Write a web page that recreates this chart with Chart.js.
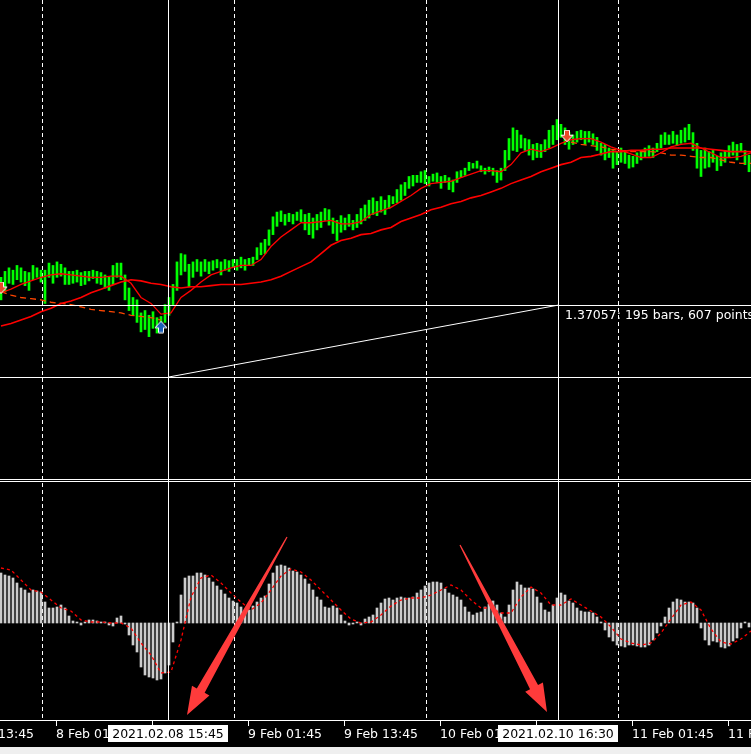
<!DOCTYPE html>
<html>
<head>
<meta charset="utf-8">
<title>GBPUSD M15</title>
<script src="https://cdn.jsdelivr.net/npm/chart.js@4.4.1/dist/chart.umd.min.js"></script>
<style>
  html, body { margin: 0; padding: 0; background: #000; }
  #wrap { width: 751px; height: 754px; }
</style>
</head>
<body>
<div id="wrap"><canvas id="chartA" width="751" height="754"></canvas></div>
<script>
// M15 bars, x = bar index (bar 0 = first visible bar, 2 px per bar)
const tickIdx = [-20, 28, 76, 124, 172, 220, 268, 316, 364];
const tickLabels = ['5 Feb 13:45', '8 Feb 01:45', '8 Feb 13:45', '9 Feb 01:45', '9 Feb 13:45',
    '10 Feb 01:45', '10 Feb 13:45', '11 Feb 01:45', '11 Feb 13:45'];
const gridIdx = [21, 117, 213, 309];

// price bars (every second bar), high / low
const barHigh = [
    1.3729, 1.3734, 1.3737, 1.3735, 1.3739, 1.3737, 1.3734, 1.3733, 1.3739, 1.3737,
    1.3735, 1.3735, 1.3741, 1.3739, 1.3742, 1.3740, 1.3737, 1.3734, 1.3734, 1.3735,
    1.3733, 1.3734, 1.3734, 1.3735, 1.3734, 1.3733, 1.3731, 1.3729, 1.3739, 1.3741,
    1.3741, 1.3731, 1.3720, 1.3712, 1.3710, 1.3699, 1.3701, 1.3697, 1.3700, 1.3695,
    1.3696, 1.3706, 1.3712, 1.3723, 1.3742, 1.3749, 1.3748, 1.3740, 1.3742, 1.3744,
    1.3742, 1.3744, 1.3742, 1.3743, 1.3744, 1.3742, 1.3744, 1.3743, 1.3744, 1.3744,
    1.3746, 1.3744, 1.3745, 1.3746, 1.3754, 1.3758, 1.3761, 1.3769, 1.3780, 1.3784,
    1.3785, 1.3782, 1.3783, 1.3782, 1.3784, 1.3786, 1.3782, 1.3783, 1.3779, 1.3782,
    1.3784, 1.3787, 1.3786, 1.3779, 1.3777, 1.3781, 1.3779, 1.3782, 1.3777, 1.3782,
    1.3787, 1.3790, 1.3794, 1.3796, 1.3793, 1.3797, 1.3794, 1.3798, 1.3797, 1.3803,
    1.3807, 1.3809, 1.3814, 1.3815, 1.3815, 1.3818, 1.3819, 1.3814, 1.3816, 1.3817,
    1.3814, 1.3815, 1.3813, 1.3811, 1.3818, 1.3819, 1.3821, 1.3826, 1.3825, 1.3827,
    1.3823, 1.3821, 1.3822, 1.3821, 1.3819, 1.3821, 1.3836, 1.3846, 1.3855, 1.3853,
    1.3849, 1.3846, 1.3845, 1.3841, 1.3842, 1.3841, 1.3845, 1.3853, 1.3857, 1.3862,
    1.3858, 1.3855, 1.3851, 1.3849, 1.3852, 1.3853, 1.3852, 1.3852, 1.3850, 1.3847,
    1.3842, 1.3841, 1.3838, 1.3836, 1.3835, 1.3838, 1.3836, 1.3832, 1.3831, 1.3834,
    1.3836, 1.3838, 1.3840, 1.3838, 1.3842, 1.3849, 1.3851, 1.3849, 1.3852, 1.3849,
    1.3853, 1.3855, 1.3858, 1.3851, 1.3842, 1.3836, 1.3838, 1.3835, 1.3836, 1.3831,
    1.3834, 1.3836, 1.3840, 1.3843, 1.3841, 1.3842, 1.3836, 1.3832
];
const barLow = [
    1.3710, 1.3717, 1.3724, 1.3723, 1.3727, 1.3725, 1.3722, 1.3718, 1.3727, 1.3729,
    1.3725, 1.3707, 1.3729, 1.3724, 1.3729, 1.3730, 1.3723, 1.3723, 1.3724, 1.3725,
    1.3722, 1.3723, 1.3726, 1.3728, 1.3724, 1.3723, 1.3720, 1.3718, 1.3723, 1.3729,
    1.3727, 1.3710, 1.3701, 1.3697, 1.3691, 1.3683, 1.3685, 1.3679, 1.3686, 1.3682,
    1.3685, 1.3691, 1.3697, 1.3706, 1.3718, 1.3731, 1.3734, 1.3721, 1.3729, 1.3734,
    1.3730, 1.3734, 1.3732, 1.3735, 1.3737, 1.3731, 1.3735, 1.3734, 1.3738, 1.3735,
    1.3737, 1.3735, 1.3739, 1.3739, 1.3744, 1.3748, 1.3749, 1.3756, 1.3765, 1.3772,
    1.3776, 1.3773, 1.3776, 1.3774, 1.3777, 1.3776, 1.3769, 1.3765, 1.3762, 1.3769,
    1.3771, 1.3777, 1.3773, 1.3766, 1.3760, 1.3767, 1.3769, 1.3772, 1.3769, 1.3771,
    1.3774, 1.3777, 1.3779, 1.3782, 1.3781, 1.3784, 1.3782, 1.3787, 1.3791, 1.3792,
    1.3794, 1.3798, 1.3804, 1.3806, 1.3809, 1.3809, 1.3808, 1.3806, 1.3810, 1.3809,
    1.3804, 1.3809, 1.3803, 1.3801, 1.3809, 1.3813, 1.3815, 1.3819, 1.3821, 1.3821,
    1.3818, 1.3816, 1.3818, 1.3815, 1.3809, 1.3811, 1.3819, 1.3828, 1.3836, 1.3835,
    1.3838, 1.3836, 1.3832, 1.3828, 1.3830, 1.3830, 1.3835, 1.3838, 1.3841, 1.3845,
    1.3847, 1.3841, 1.3837, 1.3841, 1.3843, 1.3845, 1.3841, 1.3843, 1.3841, 1.3836,
    1.3832, 1.3828, 1.3830, 1.3821, 1.3824, 1.3826, 1.3825, 1.3821, 1.3822, 1.3825,
    1.3828, 1.3830, 1.3831, 1.3830, 1.3835, 1.3838, 1.3841, 1.3841, 1.3842, 1.3840,
    1.3842, 1.3843, 1.3845, 1.3836, 1.3821, 1.3814, 1.3821, 1.3822, 1.3826, 1.3819,
    1.3823, 1.3826, 1.3830, 1.3832, 1.3828, 1.3835, 1.3824, 1.3818
];

// moving averages and stop line, one value every 5 bars
const maFast = [
    1.3716, 1.3719, 1.3723, 1.3726, 1.3729, 1.3731, 1.3732, 1.3731, 1.3730, 1.3729,
    1.3729, 1.3730, 1.3730, 1.3724, 1.3712, 1.3707, 1.3698, 1.3699, 1.3712, 1.3718,
    1.3725, 1.3731, 1.3734, 1.3737, 1.3739, 1.3739, 1.3744, 1.3755, 1.3763, 1.3769,
    1.3775, 1.3775, 1.3776, 1.3777, 1.3774, 1.3774, 1.3776, 1.3782, 1.3785, 1.3788,
    1.3793, 1.3798, 1.3804, 1.3808, 1.3809, 1.3810, 1.3813, 1.3816, 1.3819, 1.3819,
    1.3818, 1.3824, 1.3834, 1.3837, 1.3835, 1.3838, 1.3842, 1.3845, 1.3846, 1.3846,
    1.3843, 1.3839, 1.3836, 1.3833, 1.3830, 1.3830, 1.3834, 1.3839, 1.3841, 1.3842,
    1.3838, 1.3834, 1.3830, 1.3830, 1.3831, 1.3834
];
const maSlow = [
    1.3688, 1.3690, 1.3693, 1.3696, 1.3700, 1.3703, 1.3707, 1.3709, 1.3712, 1.3716,
    1.3719, 1.3722, 1.3725, 1.3727, 1.3726, 1.3724, 1.3723, 1.3721, 1.3720, 1.3721,
    1.3721, 1.3722, 1.3723, 1.3723, 1.3723, 1.3724, 1.3725, 1.3727, 1.3730, 1.3734,
    1.3738, 1.3742, 1.3749, 1.3756, 1.3760, 1.3762, 1.3765, 1.3766, 1.3769, 1.3771,
    1.3776, 1.3779, 1.3782, 1.3786, 1.3788, 1.3791, 1.3793, 1.3796, 1.3798, 1.3801,
    1.3804, 1.3808, 1.3811, 1.3814, 1.3818, 1.3821, 1.3824, 1.3826, 1.3830, 1.3831,
    1.3833, 1.3835, 1.3835, 1.3836, 1.3836, 1.3837, 1.3837, 1.3838, 1.3838, 1.3838,
    1.3838, 1.3837, 1.3836, 1.3835, 1.3835, 1.3835
];
const trailStop = [
    1.3717, 1.3714, 1.3712, 1.3711, 1.3710, 1.3708, 1.3707, 1.3706, 1.3704, 1.3702,
    1.3701, 1.3700, 1.3699, 1.3697, 1.3696, 1.3695, 1.3693,
    null, null, null, null, null, null, null, null, null, null,
    null, null, null, null, null, null, null, null, null, null,
    null, null, null, null, null, null, null, null, null, null,
    null, null, null, null, null, null, null, null, null, null,
    1.3843, 1.3841, 1.3840, 1.3839, 1.3837, 1.3836, 1.3835, 1.3835, 1.3835, 1.3834,
    1.3832, 1.3832, 1.3831, 1.3830, 1.3830, 1.3828, 1.3826, 1.3825, 1.3825
];

// MACD in points: histogram every second bar, signal every 5 bars
const macdHist = [
    50, 48, 47, 45, 40, 35, 33, 30, 33, 32,
    31, 21, 15, 15, 16, 18, 15, 7, 2, 1,
    -2, 1, 3, 3, 2, 1, 1, -2, -3, 5,
    7, -1, -12, -22, -29, -44, -52, -54, -55, -57,
    -56, -50, -42, -19, 1, 28, 45, 47, 47, 50,
    50, 48, 45, 41, 37, 33, 29, 25, 22, 20,
    16, 12, 13, 17, 21, 25, 27, 39, 50, 57,
    58, 57, 55, 52, 51, 48, 44, 39, 33, 26,
    23, 16, 15, 17, 15, 8, 2, -2, -1, 1,
    -2, 4, 6, 8, 15, 20, 24, 25, 23, 25,
    26, 25, 25, 26, 30, 33, 37, 40, 41, 41,
    40, 34, 30, 28, 26, 23, 16, 11, 8, 10,
    11, 16, 19, 22, 18, 10, 6, 18, 33, 41,
    38, 35, 35, 34, 26, 20, 13, 11, 18, 25,
    30, 28, 22, 20, 15, 12, 11, 11, 10, 6,
    1, -7, -14, -18, -22, -23, -24, -22, -22, -23,
    -24, -24, -22, -17, -10, -3, 6, 15, 21, 24,
    23, 21, 21, 20, 15, -5, -17, -22, -18, -19,
    -24, -25, -23, -18, -15, -5, 1, -4
];
const macdSignal = [
    55, 53, 43, 33, 31, 23, 15, 12, 3, 1,
    1, 0, 0, -5, -20, -32, -50, -49, -17, 26,
    45, 48, 40, 30, 21, 13, 20, 33, 47, 54,
    51, 43, 33, 23, 13, 4, 0, 1, 8, 17,
    23, 25, 25, 28, 33, 38, 33, 23, 15, 15,
    10, 10, 26, 36, 30, 18, 18, 24, 18, 12,
    6, -4, -16, -20, -22, -20, -10, 4, 18, 21,
    13, -6, -19, -21, -16, -8
];

// signal arrows
const sellIdx = [0, 283];
const sellPrice = [1.3720, 1.3848];
const buyIdx = [80];
const buyPrice = [1.3687];

// crosshair measurement
const crossIdx = [84, 279];
const crossPrice = [1.36450, 1.37057];
const crossLabels = ['2021.02.08 15:45', '2021.02.10 16:30'];

// hand drawn red arrows in the MACD window: [bar, points] from -> to
const markFrom = [[143, 86], [229.5, 78]];
const markTo = [[93, -92], [273, -89]];

const barIdx = barHigh.map((_, i) => i * 2);
const maIdx = maFast.map((_, i) => i * 5);

function arrowImg(fill, up) {
    const c = document.createElement('canvas');
    c.width = 14;
    c.height = 13;
    const g = c.getContext('2d');
    let pts = [[4.5, 0.5], [9.5, 0.5], [9.5, 5.5], [13, 5.5], [7, 12], [1, 5.5], [4.5, 5.5]];
    if (up) pts = pts.map(p => [p[0], 12.5 - p[1]]);
    g.beginPath();
    pts.forEach((p, i) => i ? g.lineTo(p[0], p[1]) : g.moveTo(p[0], p[1]));
    g.closePath();
    g.fillStyle = fill;
    g.fill();
    g.strokeStyle = '#fff';
    g.lineWidth = 1;
    g.stroke();
    return c;
}

const FONT = '12.5px "DejaVu Sans", sans-serif';

const mt4 = {
    id: 'mt4',
    beforeDraw(chart) {
        const ctx = chart.ctx;
        ctx.save();
        ctx.fillStyle = '#000';
        ctx.fillRect(0, 0, chart.width, chart.height);
        ctx.restore();
    },
    beforeDatasetsDraw(chart) {
        const {ctx, chartArea, scales: {x}} = chart;
        ctx.save();
        ctx.strokeStyle = '#fff';
        ctx.lineWidth = 1;
        ctx.setLineDash([4, 3]);
        gridIdx.forEach(i => {
            const px = Math.round(x.getPixelForValue(i)) - 0.5;
            ctx.beginPath();
            ctx.moveTo(px, chartArea.top);
            ctx.lineTo(px, chartArea.bottom);
            ctx.stroke();
        });
        ctx.restore();
    },
    afterDatasetsDraw(chart) {
        const {ctx, chartArea, scales: {x, y, y2}} = chart;
        const W = chart.width;
        ctx.save();
        ctx.fillStyle = '#fff';
        // crosshair verticals
        crossIdx.forEach(i => {
            ctx.fillRect(Math.round(x.getPixelForValue(i)) - 1, chartArea.top, 1, chartArea.bottom - chartArea.top);
        });
        // crosshair horizontals
        crossPrice.forEach(p => {
            ctx.fillRect(0, Math.round(y.getPixelForValue(p)), W, 1);
        });
        // measure text
        const bars = crossIdx[1] - crossIdx[0];
        const pts = Math.round((crossPrice[1] - crossPrice[0]) * 1e5);
        ctx.font = FONT;
        ctx.textBaseline = 'alphabetic';
        ctx.textAlign = 'left';
        ctx.fillText(crossPrice[1].toFixed(5) + ': ' + bars + ' bars, ' + pts + ' points',
            x.getPixelForValue(crossIdx[1]) + 6, y.getPixelForValue(crossPrice[1]) + 14);
        // window separator
        ctx.fillRect(0, 479, W, 1);
        ctx.fillRect(0, 481, W, 1);

        // red marks
        ctx.fillStyle = '#ff3b3b';
        markFrom.forEach((f, k) => {
            const x0 = x.getPixelForValue(f[0]), y0 = y2.getPixelForValue(f[1]);
            const x1 = x.getPixelForValue(markTo[k][0]), y1 = y2.getPixelForValue(markTo[k][1]);
            const L = Math.hypot(x1 - x0, y1 - y0);
            const ux = (x1 - x0) / L, uy = (y1 - y0) / L;
            const nx = -uy, ny = ux;
            const hl = 28, hw = 10;
            const bx = x1 - ux * hl, by = y1 - uy * hl;
            ctx.beginPath();
            ctx.moveTo(x0 + nx * 0.6, y0 + ny * 0.6);
            ctx.lineTo(bx + nx * 4.5, by + ny * 4.5);
            ctx.lineTo(bx + nx * hw, by + ny * hw);
            ctx.lineTo(x1, y1);
            ctx.lineTo(bx - nx * hw, by - ny * hw);
            ctx.lineTo(bx - nx * 4.5, by - ny * 4.5);
            ctx.lineTo(x0 - nx * 0.6, y0 - ny * 0.6);
            ctx.closePath();
            ctx.fill();
        });

        // time scale
        const axisY = chartArea.bottom;
        ctx.fillStyle = '#000';
        ctx.fillRect(0, axisY, W, chart.height - axisY);
        ctx.fillStyle = '#fff';
        ctx.fillRect(0, axisY, W, 1);
        ctx.font = FONT;
        tickIdx.forEach((i, k) => {
            const px = Math.round(x.getPixelForValue(i)) - 1;
            ctx.fillRect(px, axisY + 1, 1, 5);
            ctx.fillText(tickLabels[k], px, axisY + 18);
        });
        crossIdx.forEach((i, k) => {
            const cx = Math.round(x.getPixelForValue(i)) - 1;
            ctx.fillStyle = '#fff';
            ctx.fillRect(cx - 60, axisY + 5, 120, 17);
            ctx.fillStyle = '#000';
            ctx.textAlign = 'center';
            ctx.fillText(crossLabels[k], cx, axisY + 18);
        });
        ctx.fillStyle = '#efefef';
        ctx.fillRect(0, 747, W, chart.height - 747);
        ctx.restore();
    }
};

const data = {
    datasets: [
        {
            label: 'diag',
            type: 'line',
            data: crossIdx.map((v, i) => ({x: v, y: crossPrice[i]})),
            borderColor: '#fff',
            borderWidth: 1,
            pointRadius: 0,
            yAxisID: 'y',
            order: 1,
        },
        {
            label: 'sell',
            type: 'line',
            data: sellIdx.map((v, i) => ({x: v, y: sellPrice[i]})),
            showLine: false,
            pointStyle: arrowImg('#e9492a', false),
            pointRadius: 6,
            yAxisID: 'y',
            order: 0,
        },
        {
            label: 'buy',
            type: 'line',
            data: buyIdx.map((v, i) => ({x: v, y: buyPrice[i]})),
            showLine: false,
            pointStyle: arrowImg('#1c5fb8', true),
            pointRadius: 6,
            yAxisID: 'y',
            order: 0,
        },
        {
            label: 'MA fast',
            type: 'line',
            data: maIdx.map((v, i) => ({x: v, y: maFast[i]})),
            borderColor: '#ff0000',
            borderWidth: 1.3,
            pointRadius: 0,
            yAxisID: 'y',
            order: 3,
        },
        {
            label: 'MA slow',
            type: 'line',
            data: maIdx.map((v, i) => ({x: v, y: maSlow[i]})),
            borderColor: '#ff0000',
            borderWidth: 1.6,
            pointRadius: 0,
            yAxisID: 'y',
            order: 3,
        },
        {
            label: 'stop',
            type: 'line',
            data: maIdx.map((v, i) => ({x: v, y: trailStop[i]})),
            borderColor: '#ff4500',
            borderWidth: 1.3,
            borderDash: [6, 4],
            pointRadius: 0,
            spanGaps: false,
            yAxisID: 'y',
            order: 3,
        },
        {
            label: 'bars',
            type: 'bar',
            data: barIdx.map((v, i) => ({x: v, y: [barLow[i], barHigh[i]]})),
            backgroundColor: '#00ff00',
            barThickness: 2,
            grouped: false,
            yAxisID: 'y',
            order: 5,
        },
        {
            label: 'MACD',
            type: 'bar',
            data: barIdx.map((v, i) => ({x: v, y: macdHist[i]})),
            backgroundColor: '#cccccc',
            barThickness: 2,
            grouped: false,
            yAxisID: 'y2',
            order: 5,
        },
        {
            label: 'Signal',
            type: 'line',
            data: maIdx.map((v, i) => ({x: v, y: macdSignal[i]})),
            borderColor: '#ff0000',
            borderWidth: 1.3,
            borderDash: [3, 3],
            pointRadius: 0,
            yAxisID: 'y2',
            order: 2,
        },
    ],
};

const config = {
    type: 'bar',
    data: data,
    options: {
        responsive: false,
        animation: false,
        events: [],
        layout: {autoPadding: false, padding: {left: 0, right: 0, top: 0, bottom: 34}},
        plugins: {legend: {display: false}, tooltip: {enabled: false}},
        scales: {
            x: {type: 'linear', min: -0.5, max: 375, offset: false, display: false},
            y: {type: 'linear', min: 1.33558, max: 1.39628, display: false},
            y2: {type: 'linear', min: -97, max: 623, display: false},
        },
    },
    plugins: [mt4],
};

const chartA = new Chart(document.getElementById('chartA').getContext('2d'), config);
</script>
</body>
</html>
